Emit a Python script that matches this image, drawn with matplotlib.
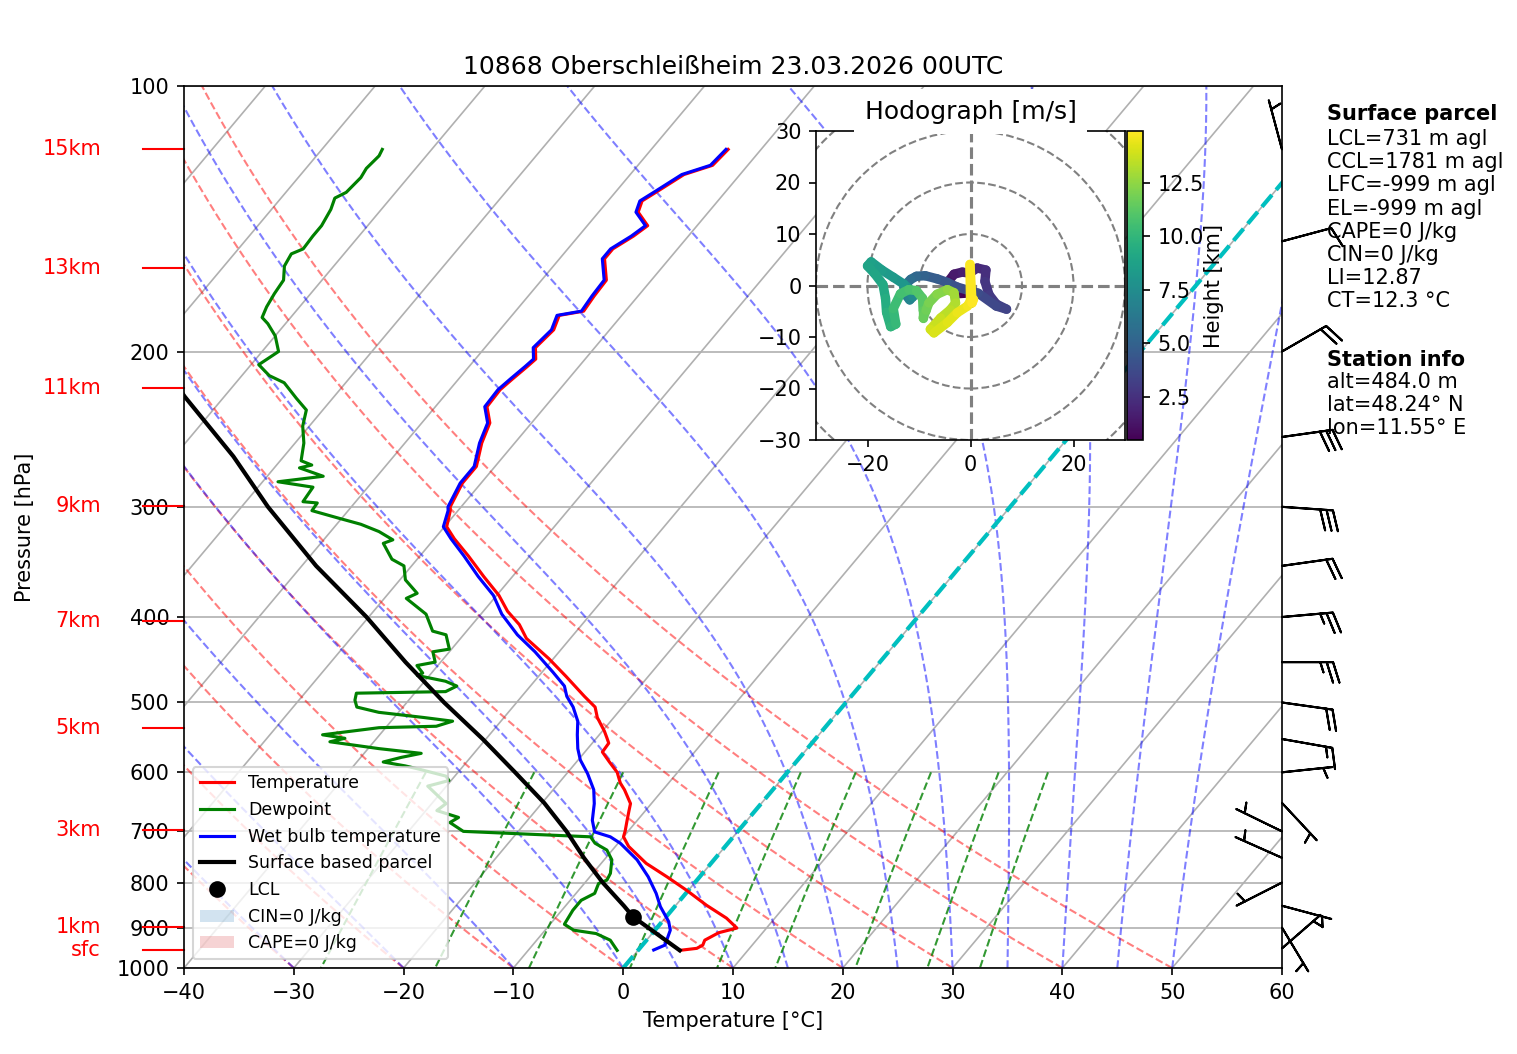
import numpy as np
import matplotlib
matplotlib.use('Agg')
import matplotlib.pyplot as plt
from matplotlib.collections import LineCollection
from matplotlib.colors import Normalize
from matplotlib.patches import Patch, Circle

title = '10868 Oberschleißheim 23.03.2026 00UTC'

# temperature profile [hPa], [degC]
p_temp = [955, 950, 942, 930, 912, 901, 878, 849, 816, 788, 761, 728, 710, 699, 681,
          663, 651, 628, 617, 600, 584, 569, 556, 548, 539, 520, 506, 492, 467, 446,
          423, 408, 394, 378, 360, 341, 326, 316, 303, 300, 282, 270, 254, 241, 231,
          221, 215, 208, 204, 198, 189, 182, 180, 173, 166, 157, 153, 148, 144, 139,
          135, 132, 126, 123, 118]
temp = [3.8, 5.2, 5.5, 5.3, 6.0, 7.3, 5.6, 2.8, -0.2, -3.0, -5.9, -8.8, -10.0, -10.3, -10.9,
        -11.5, -11.9, -13.5, -14.4, -15.5, -17.0, -18.4, -18.5, -19.1, -19.8, -21.5, -22.5, -24.3, -27.5, -30.4,
        -34.0, -35.7, -37.8, -39.8, -42.6, -45.6, -48.2, -49.8, -50.7, -51.0, -51.7, -51.7, -53.0, -53.8, -55.3,
        -55.4, -55.1, -54.7, -54.5, -55.4, -55.1, -55.7, -53.8, -54.0, -54.1, -55.9, -55.9, -55.0, -54.5, -56.4,
        -56.9, -56.3, -55.1, -53.2, -53.0]

# dewpoint profile
p_dwpt = [955, 946, 930, 914, 906, 892, 860, 838, 823, 802, 795, 781, 754, 735, 722,
          710, 705, 700, 684, 675, 663, 651, 622, 613, 606, 595, 590, 584, 577, 571,
          564, 554, 549, 544, 534, 532, 525, 520, 513, 506, 497, 488, 486, 479, 473,
          466, 463, 454, 450, 438, 435, 419, 415, 397, 381, 376, 363, 350, 344, 330,
          327, 320, 314, 309, 303, 297, 296, 285, 281, 277, 271, 269, 266, 254, 243,
          233, 226, 217, 213, 207, 200, 192, 186, 183, 178, 172, 166, 160, 155, 153,
          148, 144, 138, 134, 132, 127, 124, 120, 118]
dwpt = [-1.9, -2.4, -3.3, -5.1, -7.4, -8.7, -9.0, -9.0, -8.3, -8.7, -8.2, -8.4, -9.3, -10.5, -12.1,
        -13.0, -19.0, -25.0, -26.9, -26.5, -29.0, -28.7, -31.7, -30.2, -30.8, -33.8, -35.3, -37.6, -36.3, -34.8,
        -39.0, -44.0, -42.9, -45.2, -40.6, -35.5, -34.4, -37.3, -41.8, -44.2, -44.9, -45.3, -37.3, -36.7, -38.1,
        -41.1, -40.8, -41.9, -40.5, -41.5, -40.2, -41.6, -43.1, -45.0, -48.0, -47.4, -49.5, -50.7, -52.3, -54.3,
        -53.7, -55.6, -57.8, -60.3, -63.3, -63.4, -64.8, -65.0, -68.6, -64.9, -67.7, -66.8, -68.1, -69.2, -70.6,
        -71.5, -73.3, -75.6, -77.5, -79.3, -78.5, -80.0, -81.6, -82.6, -83.0, -83.3, -83.5, -84.5, -84.8, -84.1,
        -84.2, -84.2, -84.6, -85.1, -84.5, -84.3, -84.5, -84.3, -84.5]

# wet bulb temperature
p_wetb = [954, 942, 906, 886, 852, 823, 788, 754, 722, 710, 701, 680, 651, 628, 602,
          581, 564, 544, 525, 506, 492, 479, 462, 438, 419, 397, 378, 360, 341, 326,
          316, 303, 300, 282, 270, 254, 241, 231, 221, 215, 208, 204, 198, 189, 182,
          180, 173, 166, 157, 153, 148, 144, 139, 135, 132, 126, 123, 118]
wetb = [1.4, 2.05, 1.4, 0.6, -1.3, -2.7, -4.7, -7.0, -9.8, -11.2, -13.0, -14.1, -15.2, -16.3, -18.1,
        -19.8, -20.9, -22.0, -23.0, -24.5, -25.9, -26.9, -29.0, -32.2, -35.1, -38.1, -40.3, -43.1, -46.0, -48.5,
        -50.1, -50.9, -51.2, -51.9, -51.9, -53.2, -54.0, -55.5, -55.6, -55.3, -54.9, -54.7, -55.6, -55.3, -55.9,
        -54.0, -54.2, -54.3, -56.1, -56.1, -55.2, -54.7, -56.6, -57.1, -56.5, -55.3, -53.4, -53.2]

# surface based parcel path
p_parcel = [955, 875, 850, 800, 750, 700, 650, 600, 550, 500, 450, 400, 350, 300, 263, 225, 210]
parcel = [3.8, -3.0, -4.7, -8.4, -12.0, -15.6, -19.8, -24.8, -30.3, -36.6, -43.2, -50.2, -58.7, -67.6, -74.6, -83.6, -87.3]
lcl_p, lcl_t = 875, -3.0

# wind barbs: pressure, direction [deg], speed [kt]
barb_p = [950, 900, 850, 800, 750, 700, 650, 600, 550, 500, 450, 400, 350, 300, 250, 200, 150, 118]
barb_dir = [49, 149, 105, 243, 294, 296, 137, 84, 100, 98, 90, 85, 82, 94, 82, 60, 75, 345]
barb_spd = [5, 5, 5, 5, 5, 5, 5, 5, 15, 20, 25, 25, 20, 30, 30, 20, 10, 5]

# height markers
hgt_lab = ['sfc', '1km', '3km', '5km', '7km', '9km', '11km', '13km', '15km']
hgt_p = [954, 898.5, 697.6, 534.3, 404.3, 299.5, 220.1, 160.9, 117.9]

# hodograph: height [km], u, v [m/s]
hodo_h = [0.48, 0.70, 0.95, 1.20, 1.45, 1.70, 1.95, 2.20, 2.45, 2.70, 2.95, 3.20, 3.40, 3.60, 3.85,
          4.10, 4.40, 4.70, 5.00, 5.30, 5.60, 5.90, 6.20, 6.60, 7.00, 7.40, 7.80, 8.10, 8.30, 8.50,
          8.70, 8.85, 9.00, 9.20, 9.45, 9.70, 9.95, 10.15, 10.40, 10.60, 10.80, 11.00, 11.20, 11.40, 11.60,
          11.80, 12.00, 12.30, 12.60, 12.90, 13.20, 13.45, 13.70, 13.95, 14.10, 14.30, 14.50, 14.65, 14.75, 14.82,
          14.88, 14.93]
hodo_u = [-1.0, -2.6, -3.9, -4.2, -3.2, -1.6, -0.2, 1.3, 3.0, 2.8, 3.6, 5.0, 7.0, 5.0, 1.5,
          -2.6, -4.5, -6.5, -8.8, -10.5, -11.6, -12.5, -12.9, -12.6, -11.8, -11.2, -11.5, -13.0, -15.0, -17.2,
          -19.3, -20.0, -18.6, -17.0, -16.5, -16.3, -15.5, -14.5, -15.0, -13.6, -12.0, -10.5, -9.3, -9.2, -9.2,
          -8.6, -8.1, -6.5, -4.5, -3.2, -2.9, -3.9, -5.8, -7.8, -7.1, -4.5, -2.6, -0.6, 0.0, -0.1,
          0.3, 0.6]
hodo_v = [-1.5, -1.6, -0.6, 0.9, 2.2, 2.6, 2.4, 3.4, 3.0, 0.8, -1.8, -3.6, -4.6, -4.0, -1.5,
          -0.3, 0.6, 1.3, 1.9, 1.8, 1.2, 0.3, -0.5, -1.8, -2.8, -2.2, -1.0, 0.3, 1.6, 3.0,
          4.6, 3.8, 2.3, 0.2, -2.5, -5.2, -8.0, -7.5, -4.5, -1.6, -0.8, -1.0, -2.5, -4.8, -6.3,
          -4.8, -3.4, -1.7, -0.8, -1.4, -3.4, -4.7, -6.3, -8.5, -9.2, -7.2, -5.3, -4.0, -3.0, 4.1,
          -3.4, -2.7]

# parcel / station info
lcl_m, ccl_m, lfc_m, el_m = 731, 1781, -999, -999
cape, cin, li, ct = 0, 0, 12.87, 12.3
alt, lat, lon = 484.0, 48.24, 11.55

# background lines
dry_t0 = np.arange(-40, 51, 10)
moist_t0 = np.concatenate((np.arange(-40, 0, 10), np.arange(0, 51, 5)))
mix_w = [0.0004, 0.001, 0.002, 0.004, 0.007, 0.01, 0.016, 0.024, 0.032]

W, H, DPI = 1517, 1054, 150
fig = plt.figure(figsize=(W / DPI, H / DPI), dpi=DPI)
ax = fig.add_axes([184 / W, 86 / H, 1098 / W, 882 / H])
ax.set_yscale('log')
ax.set_xlim(-40, 60)
ax.set_ylim(1000, 100)

# skew so that isotherms lean 40 deg in display space
SKEW = np.tan(np.radians(40)) * 882 / (1098 / 100.0)


def sk(t, p):
    return np.asarray(t, float) + SKEW * np.log10(1000.0 / np.asarray(p, float))


def moist_path(t0, p):
    Rd, Cp, Lv, eps = 287.04749, 1004.6662, 2.50084e6, 0.622

    def dtdp(T, pp):
        tc = T - 273.15
        es = 6.112 * np.exp(17.67 * tc / (tc + 243.5))
        rs = eps * es / (pp - es)
        return (Rd * T + Lv * rs) / (Cp + Lv * Lv * rs * eps / (Rd * T * T)) / pp
    T = t0 + 273.15
    out = [T]
    for i in range(len(p) - 1):
        h = p[i + 1] - p[i]
        k1 = dtdp(T, p[i])
        k2 = dtdp(T + h / 2 * k1, p[i] + h / 2)
        k3 = dtdp(T + h / 2 * k2, p[i] + h / 2)
        k4 = dtdp(T + h * k3, p[i + 1])
        T = T + h / 6 * (k1 + 2 * k2 + 2 * k3 + k4)
        out.append(T)
    return np.array(out) - 273.15


pp = np.linspace(1000, 100, 181)
# isotherms
for t in range(-160, 61, 10):
    ax.plot(sk([t, t], [1000, 100]), [1000, 100], color='#b0b0b0', lw=0.8, zorder=0.5)
ax.yaxis.grid(True, color='#b0b0b0', lw=0.8)
ax.set_axisbelow(True)

for t0 in dry_t0:
    tt = (t0 + 273.15) * (pp / 1000.0) ** 0.2857 - 273.15
    ax.plot(sk(tt, pp), pp, color='r', ls='--', lw=1, alpha=0.5, zorder=1)
for t0 in moist_t0:
    tt = moist_path(t0, pp)
    ax.plot(sk(tt, pp), pp, color='b', ls='--', lw=1, alpha=0.5, zorder=1)
pm = np.linspace(600, 1000, 50)
for w in mix_w:
    e = pm * w / (0.622 + w)
    val = np.log(e / 6.112)
    td = 243.5 * val / (17.67 - val)
    ax.plot(sk(td, pm), pm, color='g', ls='--', lw=1, alpha=0.8, zorder=1)

ax.plot(sk([0, 0], [1000, 100]), [1000, 100], color='c', ls='--', lw=2, zorder=1.5)

l1, = ax.plot(sk(temp, p_temp), p_temp, color='r', lw=1.5, zorder=2)
l2, = ax.plot(sk(dwpt, p_dwpt), p_dwpt, color='g', lw=1.5, zorder=2)
l3, = ax.plot(sk(wetb, p_wetb), p_wetb, color='b', lw=1.5, zorder=2)
l4, = ax.plot(sk(parcel, p_parcel), p_parcel, color='k', lw=2, zorder=2)
l5, = ax.plot(sk([lcl_t], [lcl_p]), [lcl_p], 'ko', ms=7, zorder=3, ls='none')

yt = [100, 200, 300, 400, 500, 600, 700, 800, 900, 1000]
ax.set_yticks(yt)
ax.set_yticklabels([str(v) for v in yt])
ax.yaxis.set_minor_locator(matplotlib.ticker.NullLocator())
ax.set_xticks(np.arange(-40, 61, 10))
ax.set_xlabel('Temperature [°C]')
ax.set_ylabel('Pressure [hPa]')
ax.yaxis.set_label_coords(-0.136, 0.5)
ax.set_title(title)

ytr = ax.get_yaxis_transform()
for lab, p in zip(hgt_lab, hgt_p):
    ax.plot([-0.0373, 0], [p, p], color='red', lw=1, transform=ytr, clip_on=False)
    ax.text(-0.0756, p, lab, color='red', ha='right', va='center', transform=ytr)

bd = np.radians(barb_dir)
bu = -np.array(barb_spd) * np.sin(bd)
bv = -np.array(barb_spd) * np.cos(bd)
ax.barbs(np.ones(len(barb_p)), barb_p, bu, bv, transform=ytr, clip_on=False, length=7, zorder=3)

handles = [l1, l2, l3, l4, l5,
           Patch(facecolor='tab:blue', alpha=0.2),
           Patch(facecolor='tab:red', alpha=0.2)]
labels = ['Temperature', 'Dewpoint', 'Wet bulb temperature', 'Surface based parcel', 'LCL',
          f'CIN={cin} J/kg', f'CAPE={cape} J/kg']
ax.legend(handles, labels, loc='lower left', fontsize='small')

info = '\n'.join([f'LCL={lcl_m} m agl', f'CCL={ccl_m} m agl', f'LFC={lfc_m} m agl',
                  f'EL={el_m} m agl', f'CAPE={cape} J/kg', f'CIN={cin} J/kg',
                  f'LI={li}', f'CT={ct} °C'])
ax.text(1.041, 0.9683, 'Surface parcel', transform=ax.transAxes, fontweight='bold', va='center')
ax.text(1.041, 0.9512, info, transform=ax.transAxes, va='top')
ax.text(1.041, 0.6893, 'Station info', transform=ax.transAxes, fontweight='bold', va='center')
ax.text(1.041, 0.6757, f'alt={alt} m\nlat={lat}° N\nlon={lon}° E', transform=ax.transAxes, va='top')

# hodograph inset
hax = fig.add_axes([816 / W, (H - 440) / H, 309 / W, 309 / H])
hax.set_xlim(-30, 30)
hax.set_ylim(-30, 30)
for r in [10, 20, 30, 40]:
    hax.add_patch(Circle((0, 0), r, fill=False, edgecolor='grey', linestyle='--'))
hax.axhline(0, color='grey', ls='--')
hax.axvline(0, color='grey', ls='--')
pts = np.array([hodo_u, hodo_v]).T.reshape(-1, 1, 2)
segs = np.concatenate([pts[:-1], pts[1:]], axis=1)
lc = LineCollection(segs, cmap='viridis', norm=Normalize(min(hodo_h), max(hodo_h)), lw=4.5,
                    capstyle='round', joinstyle='round')
lc.set_array(np.array(hodo_h[:-1]))
hax.add_collection(lc)
hax.set_xticks([-20, 0, 20])
hax.set_yticks([-30, -20, -10, 0, 10, 20, 30])
hax.set_title('Hodograph [m/s]', bbox=dict(facecolor='white', edgecolor='none', pad=5))

cax = fig.add_axes([1127 / W, (H - 440) / H, 16 / W, 309 / H])
cb = fig.colorbar(lc, cax=cax)
cb.set_ticks([2.5, 5.0, 7.5, 10.0, 12.5])
cb.set_ticklabels(['2.5', '5.0', '7.5', '10.0', '12.5'])
cb.set_label('Height [km]', labelpad=0)

fig.savefig('out.png', dpi=DPI)
